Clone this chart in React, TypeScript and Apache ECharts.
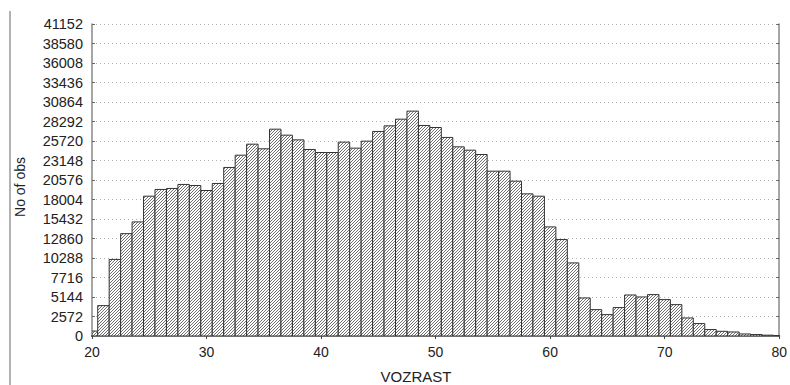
import React, { useEffect, useRef } from "react";
import * as echarts from "echarts";

const ages = [20, 21, 22, 23, 24, 25, 26, 27, 28, 29, 30, 31, 32, 33, 34, 35, 36, 37, 38, 39, 40, 41, 42, 43, 44, 45, 46, 47, 48, 49, 50, 51, 52, 53, 54, 55, 56, 57, 58, 59, 60, 61, 62, 63, 64, 65, 66, 67, 68, 69, 70, 71, 72, 73, 74, 75, 76, 77, 78, 79, 80];
const counts = [650, 4010, 10100, 13500, 15050, 18440, 19330, 19460, 19990, 19850, 19190, 20120, 22230, 23850, 25300, 24690, 27280, 26490, 25870, 24600, 24200, 24200, 25570, 24780, 25700, 26980, 27720, 28600, 29660, 27770, 27500, 26190, 24950, 24510, 23940, 21740, 21740, 20420, 18750, 18440, 14390, 12720, 9640, 5020, 3480, 2820, 3750, 5410, 5150, 5460, 4800, 4140, 2380, 1640, 850, 620, 530, 270, 190, 110, 60];
const yMin = 0;
const yMax = 41152;
const yStep = 2572;
const xMin = 20;
const xMax = 80;
const xStep = 10;
const xTitle = "VOZRAST";
const yTitle = "No of obs";

const FONT = "'Liberation Sans', Arial, sans-serif";

function makeHatch(): HTMLCanvasElement {
  const n = 3;
  const c = document.createElement("canvas");
  c.width = n;
  c.height = n;
  const ctx = c.getContext("2d")!;
  ctx.fillStyle = "#ffffff";
  ctx.fillRect(0, 0, n, n);
  ctx.fillStyle = "#707070";
  for (let i = 0; i < n; i++) {
    ctx.fillRect(i, n - 1 - i, 1, 1);
  }
  return c;
}

export default function App() {
  const ref = useRef<HTMLDivElement>(null);
  useEffect(() => {
    if (!ref.current) return;
    const chart = echarts.init(ref.current, undefined, { renderer: "svg" });
    const hatch = makeHatch();
    const data = ages.map((a, i) => [a, counts[i]]);
    chart.setOption({
      animation: false,
      backgroundColor: "#ffffff",
      grid: { left: 92, right: 7, top: 24, bottom: 49 },
      xAxis: [
        {
          type: "value",
          min: xMin,
          max: xMax,
          interval: xStep,
          position: "bottom",
          axisLine: { show: true, lineStyle: { color: "#222", width: 2 } },
          axisTick: { show: false },
          axisLabel: { color: "#222", fontSize: 14, fontFamily: FONT, margin: 9, formatter: (v: number) => String(v) },
          splitLine: { show: false },
        },
        {
          type: "value",
          min: xMin,
          max: xMax,
          interval: xStep,
          position: "top",
          axisLine: { show: true, lineStyle: { color: "#888", width: 1.5 } },
          axisTick: { show: true, inside: true, length: 3, lineStyle: { color: "#444" } },
          axisLabel: { show: false },
          splitLine: { show: false },
        },
      ],
      yAxis: [
        {
          type: "value",
          min: yMin,
          max: yMax,
          interval: yStep,
          position: "left",
          axisLine: { show: true, lineStyle: { color: "#888", width: 1.5 } },
          axisTick: { show: true, inside: true, length: 3, lineStyle: { color: "#666" } },
          axisLabel: { color: "#222", fontSize: 14.5, fontFamily: FONT, margin: 9, formatter: (v: number) => String(v) },
          splitLine: { show: true, lineStyle: { color: "#b0b0b0", type: [1, 3], width: 1 } },
        },
        {
          type: "value",
          min: yMin,
          max: yMax,
          interval: yStep,
          position: "right",
          axisLine: { show: true, lineStyle: { color: "#888", width: 1.5 } },
          axisTick: { show: true, inside: true, length: 3, lineStyle: { color: "#666" } },
          axisLabel: { show: false },
          splitLine: { show: false },
        },
      ],
      graphic: [
        {
          type: "line",
          shape: { x1: 10, y1: 11, x2: 10, y2: 385 },
          style: { stroke: "#999", lineWidth: 1.5 },
        },
        {
          type: "text",
          x: 416,
          y: 376,
          style: {
            text: xTitle,
            fill: "#222",
            font: `15px ${FONT}`,
            align: "center",
            verticalAlign: "middle",
          },
        },
        {
          type: "text",
          x: 19.5,
          y: 187,
          rotation: Math.PI / 2,
          style: {
            text: yTitle,
            fill: "#222",
            font: `14px ${FONT}`,
            align: "center",
            verticalAlign: "middle",
          },
        },
      ],
      series: [
        {
          type: "custom",
          xAxisIndex: 0,
          yAxisIndex: 0,
          encode: { x: 0, y: 1 },
          data,
          clip: true,
          renderItem: (params: any, api: any) => {
            const x = api.value(0);
            const v = api.value(1);
            const p1 = api.coord([x - 0.5, v]);
            const p2 = api.coord([x + 0.5, 0]);
            const cs = params.coordSys;
            const shape = echarts.graphic.clipRectByRect(
              { x: p1[0], y: p1[1], width: p2[0] - p1[0], height: p2[1] - p1[1] },
              { x: cs.x, y: cs.y, width: cs.width, height: cs.height }
            );
            if (!shape) return null;
            return {
              type: "rect",
              shape,
              style: {
                fill: { image: hatch, repeat: "repeat" },
                stroke: "#333",
                lineWidth: 1,
              },
            };
          },
        },
      ],
    });
    return () => chart.dispose();
  }, []);
  return (
    <div
      ref={ref}
      style={{ position: "fixed", left: 0, top: 0, width: 790, height: 385, background: "#fff" }}
    />
  );
}
